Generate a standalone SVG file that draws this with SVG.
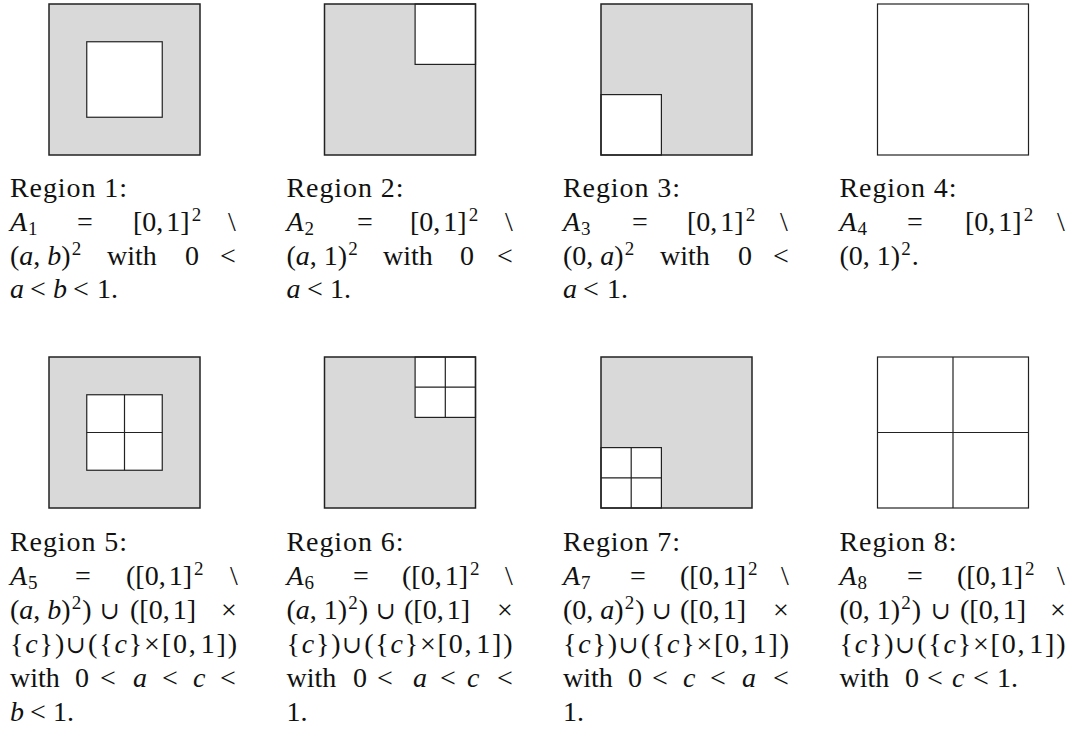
<svg xmlns="http://www.w3.org/2000/svg" width="1075" height="740" viewBox="0 0 1075 740">
<style>
text{font-family:"Liberation Serif",serif;font-size:28px;fill:#111}
.i{font-style:italic}
.s{font-size:19px}
.u{font-size:24px;font-family:"DejaVu Serif","Liberation Serif",serif}
.gray{fill:#d9d9d9;stroke:none}
.wh{fill:#fff;stroke:#222;stroke-width:1.2}
.out{fill:none;stroke:#222;stroke-width:1.5}
.ln{stroke:#222;stroke-width:1.2;fill:none}
</style>
<rect width="1075" height="740" fill="#fff"/>

<g id="region-1">
<rect class="gray" x="49" y="4" width="151" height="151"/>
<rect class="wh" x="86.75" y="41.75" width="75.5" height="75.5"/>
<rect class="out" x="49" y="4" width="151" height="151"/>
<text x="10" y="197" textLength="117">Region 1:</text>
<text y="231"><tspan x="10" class="i">A</tspan><tspan dx="1" y="235" class="s">1</tspan><tspan x="77" y="231">=</tspan><tspan x="133">[0,<tspan dx="3">1]</tspan></tspan><tspan dx="2" y="221" class="s">2</tspan><tspan x="228" y="231">\</tspan></text>
<text y="264.5"><tspan x="10">(<tspan class="i">a</tspan>, <tspan class="i">b</tspan>)</tspan><tspan dx="1" y="254.5" class="s">2</tspan><tspan x="107" y="264.5">with</tspan><tspan x="185">0</tspan><tspan x="220">&lt;</tspan></text>
<text y="298"><tspan x="10" class="i">a</tspan><tspan x="30">&lt;</tspan><tspan x="53" class="i">b</tspan><tspan x="73">&lt;</tspan><tspan x="97">1.</tspan></text>
</g>

<g id="region-2">
<rect class="gray" x="324.5" y="4" width="151" height="151"/>
<rect class="wh" x="415.1" y="4" width="60.4" height="60.4"/>
<rect class="out" x="324.5" y="4" width="151" height="151"/>
<text x="286.5" y="197" textLength="117">Region 2:</text>
<text y="231"><tspan x="286.5" class="i">A</tspan><tspan dx="1" y="235" class="s">2</tspan><tspan x="357" y="231">=</tspan><tspan x="410">[0,<tspan dx="3">1]</tspan></tspan><tspan dx="2" y="221" class="s">2</tspan><tspan x="505" y="231">\</tspan></text>
<text y="264.5"><tspan x="286.5">(<tspan class="i">a</tspan>, 1)</tspan><tspan dx="1" y="254.5" class="s">2</tspan><tspan x="383" y="264.5">with</tspan><tspan x="460">0</tspan><tspan x="497">&lt;</tspan></text>
<text y="298"><tspan x="286.5" class="i">a</tspan><tspan x="307">&lt;</tspan><tspan x="330">1.</tspan></text>
</g>

<g id="region-3">
<rect class="gray" x="601" y="4" width="151" height="151"/>
<rect class="wh" x="601" y="94.6" width="60.4" height="60.4"/>
<rect class="out" x="601" y="4" width="151" height="151"/>
<text x="563" y="197" textLength="117">Region 3:</text>
<text y="231"><tspan x="563" class="i">A</tspan><tspan dx="1" y="235" class="s">3</tspan><tspan x="632" y="231">=</tspan><tspan x="687">[0,<tspan dx="3">1]</tspan></tspan><tspan dx="2" y="221" class="s">2</tspan><tspan x="780" y="231">\</tspan></text>
<text y="264.5"><tspan x="563">(0, <tspan class="i">a</tspan>)</tspan><tspan dx="1" y="254.5" class="s">2</tspan><tspan x="660" y="264.5">with</tspan><tspan x="738">0</tspan><tspan x="773">&lt;</tspan></text>
<text y="298"><tspan x="563" class="i">a</tspan><tspan x="583">&lt;</tspan><tspan x="607">1.</tspan></text>
</g>

<g id="region-4">
<rect class="wh" x="877.5" y="4" width="151" height="151" stroke-width="1.5"/>
<text x="839.5" y="197" textLength="117">Region 4:</text>
<text y="231"><tspan x="839.5" class="i">A</tspan><tspan dx="1" y="235" class="s">4</tspan><tspan x="907" y="231">=</tspan><tspan x="965">[0,<tspan dx="3">1]</tspan></tspan><tspan dx="2" y="221" class="s">2</tspan><tspan x="1057" y="231">\</tspan></text>
<text y="264.5"><tspan x="839.5">(0, 1)</tspan><tspan dx="1" y="254.5" class="s">2</tspan><tspan dx="1" y="264.5">.</tspan></text>
</g>

<g id="region-5">
<rect class="gray" x="49" y="357" width="151" height="151"/>
<rect class="wh" x="86.75" y="394.75" width="75.5" height="75.5"/>
<path class="ln" d="M124.5 394.75V470.25M86.75 432.5H162.25"/>
<rect class="out" x="49" y="357" width="151" height="151"/>
<text x="10" y="551" textLength="117">Region 5:</text>
<text y="585"><tspan x="10" class="i">A</tspan><tspan dx="1" y="589" class="s">5</tspan><tspan x="75" y="585">=</tspan><tspan x="126">([0,<tspan dx="3">1]</tspan></tspan><tspan dx="2" y="575" class="s">2</tspan><tspan x="230" y="585">\</tspan></text>
<text y="619"><tspan x="10">(<tspan class="i">a</tspan>, <tspan class="i">b</tspan>)</tspan><tspan dx="1" y="609" class="s">2</tspan><tspan dx="1" y="619">)</tspan><tspan x="100" class="u">∪</tspan><tspan x="130">([0,<tspan dx="3">1]</tspan></tspan><tspan x="221">×</tspan></text>
<text x="10" y="653" textLength="227">{<tspan class="i">c</tspan>})<tspan class="u">∪</tspan>({<tspan class="i">c</tspan>}×[0,<tspan dx="3">1])</tspan></text>
<text y="687"><tspan x="10">with</tspan><tspan x="75">0</tspan><tspan x="100">&lt;</tspan><tspan x="133" class="i">a</tspan><tspan x="162">&lt;</tspan><tspan x="193" class="i">c</tspan><tspan x="220">&lt;</tspan></text>
<text y="721"><tspan x="10" class="i">b</tspan><tspan x="30">&lt;</tspan><tspan x="53">1.</tspan></text>
</g>

<g id="region-6">
<rect class="gray" x="324.5" y="357" width="151" height="151"/>
<rect class="wh" x="415.1" y="357" width="60.4" height="60.4"/>
<path class="ln" d="M445.3 357V417.4M415.1 387.2H475.5"/>
<rect class="out" x="324.5" y="357" width="151" height="151"/>
<text x="286.5" y="551" textLength="117">Region 6:</text>
<text y="585"><tspan x="286.5" class="i">A</tspan><tspan dx="1" y="589" class="s">6</tspan><tspan x="353" y="585">=</tspan><tspan x="402">([0,<tspan dx="3">1]</tspan></tspan><tspan dx="2" y="575" class="s">2</tspan><tspan x="505" y="585">\</tspan></text>
<text y="619"><tspan x="286.5">(<tspan class="i">a</tspan>, 1)</tspan><tspan dx="1" y="609" class="s">2</tspan><tspan dx="1" y="619">)</tspan><tspan x="376" class="u">∪</tspan><tspan x="404">([0,<tspan dx="3">1]</tspan></tspan><tspan x="497">×</tspan></text>
<text x="286.5" y="653" textLength="226">{<tspan class="i">c</tspan>})<tspan class="u">∪</tspan>({<tspan class="i">c</tspan>}×[0,<tspan dx="3">1])</tspan></text>
<text y="687"><tspan x="286.5">with</tspan><tspan x="353">0</tspan><tspan x="377">&lt;</tspan><tspan x="413" class="i">a</tspan><tspan x="440">&lt;</tspan><tspan x="467" class="i">c</tspan><tspan x="497">&lt;</tspan></text>
<text y="721"><tspan x="286.5">1.</tspan></text>
</g>

<g id="region-7">
<rect class="gray" x="601" y="357" width="151" height="151"/>
<rect class="wh" x="601" y="447.6" width="60.4" height="60.4"/>
<path class="ln" d="M631.2 447.6V508M601 477.8H661.4"/>
<rect class="out" x="601" y="357" width="151" height="151"/>
<text x="563" y="551" textLength="117">Region 7:</text>
<text y="585"><tspan x="563" class="i">A</tspan><tspan dx="1" y="589" class="s">7</tspan><tspan x="630" y="585">=</tspan><tspan x="680">([0,<tspan dx="3">1]</tspan></tspan><tspan dx="2" y="575" class="s">2</tspan><tspan x="781" y="585">\</tspan></text>
<text y="619"><tspan x="563">(0, <tspan class="i">a</tspan>)</tspan><tspan dx="1" y="609" class="s">2</tspan><tspan dx="1" y="619">)</tspan><tspan x="652" class="u">∪</tspan><tspan x="680">([0,<tspan dx="3">1]</tspan></tspan><tspan x="773">×</tspan></text>
<text x="563" y="653" textLength="226">{<tspan class="i">c</tspan>})<tspan class="u">∪</tspan>({<tspan class="i">c</tspan>}×[0,<tspan dx="3">1])</tspan></text>
<text y="687"><tspan x="563">with</tspan><tspan x="628">0</tspan><tspan x="652">&lt;</tspan><tspan x="683" class="i">c</tspan><tspan x="710">&lt;</tspan><tspan x="742" class="i">a</tspan><tspan x="773">&lt;</tspan></text>
<text y="721"><tspan x="563">1.</tspan></text>
</g>

<g id="region-8">
<rect class="wh" x="877.5" y="357" width="151" height="151" stroke-width="1.5"/>
<path class="ln" d="M953 357V508M877.5 432.5H1028.5"/>
<text x="839.5" y="551" textLength="117">Region 8:</text>
<text y="585"><tspan x="839.5" class="i">A</tspan><tspan dx="1" y="589" class="s">8</tspan><tspan x="907" y="585">=</tspan><tspan x="957">([0,<tspan dx="3">1]</tspan></tspan><tspan dx="2" y="575" class="s">2</tspan><tspan x="1057" y="585">\</tspan></text>
<text y="619"><tspan x="839.5">(0, 1)</tspan><tspan dx="1" y="609" class="s">2</tspan><tspan dx="1" y="619">)</tspan><tspan x="931" class="u">∪</tspan><tspan x="960">([0,<tspan dx="3">1]</tspan></tspan><tspan x="1050">×</tspan></text>
<text x="839.5" y="653" textLength="226">{<tspan class="i">c</tspan>})<tspan class="u">∪</tspan>({<tspan class="i">c</tspan>}×[0,<tspan dx="3">1])</tspan></text>
<text y="687"><tspan x="839.5">with</tspan><tspan x="905">0</tspan><tspan x="927">&lt;</tspan><tspan x="952" class="i">c</tspan><tspan x="973">&lt;</tspan><tspan x="997">1.</tspan></text>
</g>
</svg>
